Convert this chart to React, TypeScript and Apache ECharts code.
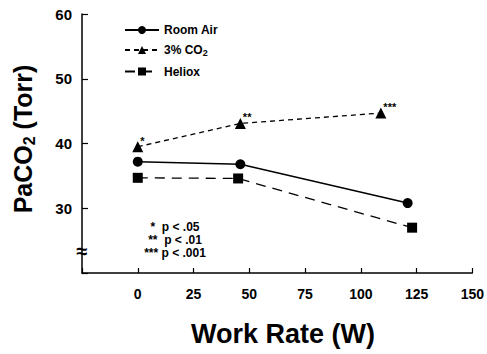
import React, { useEffect, useRef } from "react";
import * as echarts from "echarts";

const roomAirX = [0, 46, 121];
const roomAirY = [37.2, 36.8, 30.8];
const co2X = [0, 46, 109];
const co2Y = [39.5, 43.1, 44.7];
const co2Stars = ["*", "**", "***"];
const helioxX = [0, 45, 123];
const helioxY = [34.7, 34.6, 27.0];
const xTicks = [0, 25, 50, 75, 100, 125, 150];
const yTicks = [30, 40, 50, 60];
const statLines = ["*  p < .05", "**  p < .01", "*** p < .001"];

const FONT = "Liberation Sans, Arial, Helvetica, sans-serif";

export default function App() {
  const ref = useRef<HTMLDivElement>(null);
  useEffect(() => {
    if (!ref.current) return;
    const chart = echarts.init(ref.current, undefined, { renderer: "svg" });
    const pts = (xs: number[], ys: number[]) => xs.map((x, i) => [x, ys[i]]);
    const co2Data = co2X.map((x, i) => ({
      value: [x, co2Y[i]],
      label: {
        show: true,
        formatter: co2Stars[i],
        position: [8, -6],
        fontSize: 11,
        fontWeight: "bold",
        color: "#000",
        fontFamily: FONT,
      },
    }));
    chart.setOption({
      animation: false,
      textStyle: { fontFamily: FONT },
      grid: { left: 82, right: 12, top: 14, bottom: 81, containLabel: false },
      legend: {
        orient: "vertical",
        left: 119,
        top: 19,
        itemWidth: 34,
        itemHeight: 10,
        itemGap: 8,
        data: ["Room Air", "3% CO2", "Heliox"],
        textStyle: {
          fontFamily: FONT,
          fontWeight: "bold",
          fontSize: 12,
          color: "#000",
          rich: {
            a: { fontFamily: FONT, fontWeight: "bold", fontSize: 12, color: "#000" },
            sub: { fontFamily: FONT, fontWeight: "bold", fontSize: 9, color: "#000", padding: [6, 0, 0, 0] },
          },
        },
        formatter: (n: string) => (n === "3% CO2" ? "{a|3% CO}{sub|2}" : "{a|" + n + "}"),
      },
      xAxis: {
        type: "value",
        min: -25,
        max: 150,
        interval: 25,
        axisLine: { show: true, onZero: false, lineStyle: { color: "#000", width: 1.5 } },
        axisTick: { show: true, inside: true, length: 5, lineStyle: { color: "#000", width: 1.2 } },
        splitLine: { show: false },
        axisLabel: {
          margin: 14,
          fontSize: 14,
          fontWeight: "bold",
          color: "#000",
          fontFamily: FONT,
          formatter: (v: number) => (xTicks.includes(v) ? String(v) : ""),
        },
      },
      yAxis: {
        type: "value",
        min: 20,
        max: 60,
        interval: 10,
        axisLine: { show: true, onZero: false, lineStyle: { color: "#000", width: 1.5 } },
        axisTick: { show: true, inside: true, length: 6, lineStyle: { color: "#000", width: 1.2 } },
        splitLine: { show: false },
        axisLabel: {
          margin: 10,
          fontSize: 15,
          fontWeight: "bold",
          color: "#000",
          fontFamily: FONT,
          formatter: (v: number) => (yTicks.includes(v) ? String(v) : ""),
        },
      },
      series: [
        {
          name: "Room Air",
          type: "line",
          data: pts(roomAirX, roomAirY),
          symbol: "circle",
          symbolSize: 10,
          itemStyle: { color: "#000" },
          lineStyle: { color: "#000", width: 1.5, type: "solid" },
        },
        {
          name: "3% CO2",
          type: "line",
          data: co2Data,
          symbol: "triangle",
          symbolSize: 11,
          itemStyle: { color: "#000" },
          lineStyle: { color: "#000", width: 1.3, type: [5, 4] },
        },
        {
          name: "Heliox",
          type: "line",
          data: pts(helioxX, helioxY),
          symbol: "rect",
          symbolSize: 10,
          itemStyle: { color: "#000" },
          lineStyle: { color: "#000", width: 1.3, type: [10, 7] },
        },
      ],
      graphic: [
        {
          type: "rect",
          shape: { x: 79, y: 246, width: 6, height: 11 },
          style: { fill: "#fff" },
        },
        {
          type: "text",
          x: 82,
          y: 251,
          style: {
            text: "≈",
            align: "center",
            verticalAlign: "middle",
            fontSize: 20,
            fontWeight: "bold",
            fill: "#000",
            fontFamily: FONT,
          },
        },
        {
          type: "text",
          x: 23,
          y: 139,
          rotation: Math.PI / 2,
          style: {
            text: "{a|PaCO}{s|2}{a| (Torr)}",
            align: "center",
            verticalAlign: "middle",
            rich: {
              a: { fontSize: 25, fontWeight: "bold", fill: "#000", fontFamily: FONT },
              s: { fontSize: 16, fontWeight: "bold", fill: "#000", fontFamily: FONT, padding: [13, 0, 0, 0] },
            },
          },
        },
        {
          type: "text",
          x: 283,
          y: 334,
          style: {
            text: "Work Rate (W)",
            align: "center",
            verticalAlign: "middle",
            fontSize: 27,
            fontWeight: "bold",
            fill: "#000",
            fontFamily: FONT,
          },
        },
        ...statLines.map((t, i) => ({
          type: "text",
          x: 175,
          y: 227 + i * 13,
          style: {
            text: t,
            align: "center",
            verticalAlign: "middle",
            fontSize: 12,
            fontWeight: "bold",
            fill: "#000",
            fontFamily: FONT,
          },
        })),
      ],
    });
    return () => chart.dispose();
  }, []);
  return (
    <div
      ref={ref}
      style={{ position: "fixed", left: 0, top: 0, width: 487, height: 354, background: "#fff" }}
    />
  );
}
